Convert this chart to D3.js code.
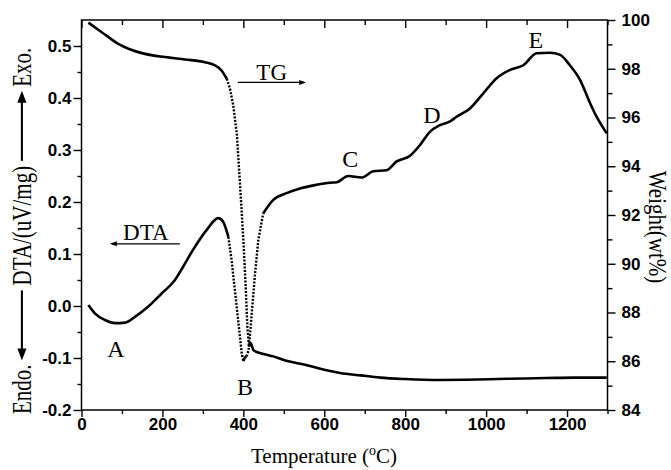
<!DOCTYPE html>
<html>
<head>
<meta charset="utf-8">
<script src="https://cdn.jsdelivr.net/npm/d3@7"></script>
<style>
body { margin: 0; background: #fff; }
svg { display: block; }
.tick text { font-family: "Liberation Sans", Arial, sans-serif; font-size: 17px; font-weight: bold; fill: #000; }
.tick line { stroke: #000; stroke-width: 1.4px; }
.serif { font-family: "Liberation Serif", "Times New Roman", serif; fill: #000; }
</style>
</head>
<body>
<svg id="chart"></svg>
<script>
////////////
// DATA
////////////

// DTA curve (left axis, uV/mg)
const dtaTemp = [17, 33, 58, 83, 108, 132, 165, 198, 231, 250, 274, 309, 338, 350, 363, 371, 379, 388, 396, 400,
    404, 408, 413, 416, 420, 429, 437, 449, 474, 507, 540, 581, 614, 631, 659, 692, 721, 754, 779, 812,
    837, 861, 886, 911, 927, 960, 993, 1026, 1059, 1092, 1125, 1158, 1183, 1207, 1232, 1257, 1273, 1298];
const dtaValue = [0.002, -0.014, -0.027, -0.033, -0.032, -0.021, -0.001, 0.024, 0.05, 0.074, 0.106, 0.146, 0.169, 0.162, 0.133, 0.088, 0.031, -0.033, -0.091, -0.106,
    -0.099, -0.097, -0.085, -0.06, -0.021, 0.063, 0.127, 0.178, 0.204, 0.217, 0.226, 0.233, 0.237, 0.238, 0.25, 0.247, 0.259, 0.261, 0.278, 0.289,
    0.31, 0.335, 0.348, 0.355, 0.364, 0.38, 0.409, 0.438, 0.454, 0.463, 0.486, 0.487, 0.483, 0.463, 0.435, 0.39, 0.364, 0.332];

// TG curve (right axis, wt%)
const tgTemp = [17, 50, 91, 116, 157, 206, 256, 305, 330, 346, 359, 367, 375, 384, 392, 400, 406, 410, 414, 418,
    425, 450, 474, 500, 557, 600, 639, 690, 738, 800, 886, 950, 1051, 1150, 1216, 1298];
const tgWeight = [99.89, 99.5, 99.02, 98.82, 98.61, 98.48, 98.38, 98.27, 98.14, 97.93, 97.59, 97.18, 96.5, 95.3, 93.2, 91.0, 89.0, 87.4, 86.6, 86.75,
    86.45, 86.3, 86.2, 86.05, 85.84, 85.65, 85.52, 85.42, 85.33, 85.27, 85.23, 85.24, 85.28, 85.31, 85.33, 85.33];

// axis ticks
const xTicks = [0, 200, 400, 600, 800, 1000, 1200];
const xMinor = [100, 300, 500, 700, 900, 1100, 1300];
const dtaTicks = [-0.2, -0.1, 0.0, 0.1, 0.2, 0.3, 0.4, 0.5];
const dtaMinor = [-0.15, -0.05, 0.05, 0.15, 0.25, 0.35, 0.45];
const tgTicks = [84, 86, 88, 90, 92, 94, 96, 98, 100];
const tgMinor = [85, 87, 89, 91, 93, 95, 97, 99];

// peak labels, anchored in DTA units
const peakLabels = ["A", "B", "C", "D", "E"];
const peakTemp = [85, 404, 664, 866, 1123];
const peakLevel = [-0.098, -0.171, 0.268, 0.352, 0.496];

////////////
// SETUP
////////////
const width = 671, height = 470;
const svg = d3.select("#chart").attr("width", width).attr("height", height);

const x = d3.scaleLinear().domain([0, 1300]).range([81.5, 607.5]);
const yL = d3.scaleLinear().domain([-0.2, 0.55]).range([410, 20]);
const yR = d3.scaleLinear().domain([84, 100]).range([410, 20]);

////////////
// AXES
////////////
function fmt1(d) { return d.toFixed(1); }

svg.append("g").attr("transform", "translate(0,410)")
    .call(d3.axisBottom(x).tickValues(xTicks).tickFormat(d3.format("d")).tickSize(7).tickPadding(1).tickSizeOuter(0));
svg.append("g").attr("transform", "translate(0,410)")
    .call(d3.axisBottom(x).tickValues(xMinor).tickSize(4).tickFormat("").tickSizeOuter(0));
svg.append("g").attr("transform", "translate(0,20)")
    .call(d3.axisTop(x).tickValues(xTicks).tickSize(-8).tickFormat("").tickSizeOuter(0));
svg.append("g").attr("transform", "translate(0,20)")
    .call(d3.axisTop(x).tickValues(xMinor).tickSize(-5).tickFormat("").tickSizeOuter(0));

svg.append("g").attr("transform", "translate(81.5,0)")
    .call(d3.axisLeft(yL).tickValues(dtaTicks).tickFormat(fmt1).tickSize(8).tickPadding(2).tickSizeOuter(0));
svg.append("g").attr("transform", "translate(81.5,0)")
    .call(d3.axisLeft(yL).tickValues(dtaMinor).tickFormat("").tickSize(4).tickSizeOuter(0));

svg.append("g").attr("transform", "translate(607.5,0)")
    .call(d3.axisRight(yR).tickValues(tgTicks).tickSize(8).tickPadding(6).tickSizeOuter(0));
svg.append("g").attr("transform", "translate(607.5,0)")
    .call(d3.axisRight(yR).tickValues(tgMinor).tickFormat("").tickSize(5).tickSizeOuter(0));

svg.selectAll(".domain").remove();

svg.append("rect")
    .attr("x", x(0)).attr("y", yL(0.55))
    .attr("width", x(1300) - x(0)).attr("height", yL(-0.2) - yL(0.55))
    .attr("fill", "none").attr("stroke", "#000").attr("stroke-width", 1.5);

////////////
// CURVES
////////////
// steep stretches were recorded as sparse dots, so draw them dotted
function drawCurve(temps, values, y) {
    const pts = temps.map((t, i) => ({ t: t, v: values[i] }));
    const runs = [];
    let cur = null;
    for (let i = 1; i < pts.length; i++) {
        const a = pts[i - 1], b = pts[i];
        const steep = Math.abs(y(b.v) - y(a.v)) > 3 * Math.abs(x(b.t) - x(a.t));
        if (!cur || cur.steep !== steep) {
            cur = { steep: steep, pts: [a] };
            runs.push(cur);
        }
        cur.pts.push(b);
    }
    const smooth = d3.line().x(d => x(d.t)).y(d => y(d.v)).curve(d3.curveMonotoneX);
    const straight = d3.line().x(d => x(d.t)).y(d => y(d.v));
    runs.forEach(r => {
        svg.append("path")
            .attr("d", r.steep ? straight(r.pts) : smooth(r.pts))
            .attr("fill", "none")
            .attr("stroke", "#000")
            .attr("stroke-width", r.steep ? 2.4 : 2.6)
            .attr("stroke-linejoin", "round")
            .attr("stroke-dasharray", r.steep ? "2,1.5" : null);
    });
}

drawCurve(tgTemp, tgWeight, yR);
drawCurve(dtaTemp, dtaValue, yL);

////////////
// ANNOTATIONS
////////////
svg.selectAll(".peak")
    .data(peakLabels)
    .join("text")
    .attr("class", "peak serif")
    .attr("x", (d, i) => x(peakTemp[i]))
    .attr("y", (d, i) => yL(peakLevel[i]))
    .attr("text-anchor", "middle")
    .style("font-size", "24px")
    .text(d => d);

function arrowHead(g, tipX, tipY, dir, len, half) {
    g.append("path")
        .attr("d", `M${tipX},${tipY} L${tipX - dir * len},${tipY - half} L${tipX - dir * len},${tipY + half} Z`)
        .attr("fill", "#000");
}

// TG pointing right
svg.append("text").attr("class", "serif").attr("x", x(470)).attr("y", yL(0.4346))
    .attr("text-anchor", "middle").style("font-size", "23px").text("TG");
svg.append("line").attr("x1", x(386)).attr("x2", x(550)).attr("y1", yL(0.43)).attr("y2", yL(0.43))
    .attr("stroke", "#000").attr("stroke-width", 1.3);
arrowHead(svg, x(555), yL(0.43), 1, 7, 2.5);

// DTA pointing left
svg.append("text").attr("class", "serif").attr("x", x(159)).attr("y", yL(0.126))
    .attr("text-anchor", "middle").style("font-size", "23px").text("DTA");
svg.append("line").attr("x1", x(243)).attr("x2", x(76)).attr("y1", yL(0.1195)).attr("y2", yL(0.1195))
    .attr("stroke", "#000").attr("stroke-width", 1.3);
arrowHead(svg, x(70), yL(0.1195), -1, 7, 2.5);

////////////
// TITLES
////////////
const xTitle = svg.append("text").attr("class", "serif")
    .attr("x", 324).attr("y", 463).attr("text-anchor", "middle").style("font-size", "21px");
xTitle.append("tspan").text("Temperature (");
xTitle.append("tspan").attr("dy", -8).style("font-size", "14px").text("o");
xTitle.append("tspan").attr("dy", 8).text("C)");

// left title, stretched across the reading direction like the scan
const lt = svg.append("g").attr("transform", "translate(31,0) rotate(-90) scale(1,1.3)");
const fs = 21;
function leftText(str, u0) {
    const t = lt.append("text").attr("class", "serif").attr("x", u0).attr("y", 0)
        .style("font-size", fs + "px").text(str);
    return u0 + t.node().getComputedTextLength();
}
let u = -414;
u = leftText("Endo.", u);
u += 4;
const a1 = u, a1End = u + 70;
lt.append("line").attr("x1", a1 + 10).attr("x2", a1End).attr("y1", -7).attr("y2", -7)
    .attr("stroke", "#000").attr("stroke-width", 1.6);
arrowHead(lt, a1, -7, -1, 12, 3.5);
u = a1End + 5;
u = leftText("DTA/(uV/mg)", u);
u += 5;
const a2 = u, a2End = u + 70;
lt.append("line").attr("x1", a2).attr("x2", a2End - 10).attr("y1", -7).attr("y2", -7)
    .attr("stroke", "#000").attr("stroke-width", 1.6);
arrowHead(lt, a2End, -7, 1, 12, 3.5);
u = a2End + 4;
leftText("Exo.", u);

// right title
svg.append("g").attr("transform", "translate(649,227) rotate(90) scale(1,1.15)")
    .append("text").attr("class", "serif").attr("text-anchor", "middle")
    .style("font-size", "21px").text("Weight(wt%)");
</script>
</body>
</html>
